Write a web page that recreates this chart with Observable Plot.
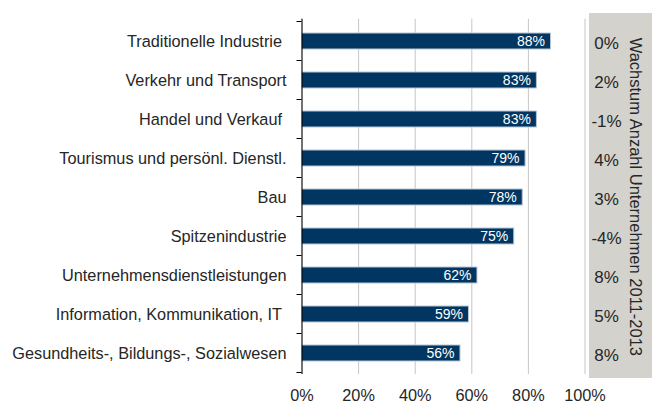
<!DOCTYPE html>
<html><head><meta charset="utf-8">
<script src="https://cdn.jsdelivr.net/npm/d3@7"></script>
<script src="https://cdn.jsdelivr.net/npm/@observablehq/plot@0.6"></script>
<style>body{margin:0;background:#fff;} svg{display:block;}</style>
</head><body><div id="chart"></div>
<script>
const categories = [
  "Traditionelle Industrie\u00a0",
  "Verkehr und Transport",
  "Handel und Verkauf\u00a0",
  "Tourismus und persönl. Dienstl.",
  "Bau",
  "Spitzenindustrie",
  "Unternehmensdienstleistungen",
  "Information, Kommunikation, IT\u00a0",
  "Gesundheits-, Bildungs-, Sozialwesen"
];
const shares = [0.88, 0.83, 0.83, 0.79, 0.78, 0.75, 0.62, 0.59, 0.56];
const growth = [0.00, 0.02, -0.01, 0.04, 0.03, -0.04, 0.08, 0.05, 0.08];
const growthTitle = "Wachstum Anzahl Unternehmen 2011-2013";
const xTicks = [0, 0.2, 0.4, 0.6, 0.8, 1.0];
const growthColumnX = 1.076;

const pct = d => `${Math.round(d * 100)}%`;
const data = categories.map((c, i) => ({category: c, share: shares[i], growth: growth[i]}));

const W = 652, H = 403;
const M = {top: 18.7, right: 67.5, bottom: 29, left: 301.5};
const textColor = "#262626";

const chart = Plot.plot({
  width: W, height: H,
  marginLeft: M.left, marginRight: M.right, marginTop: M.top, marginBottom: M.bottom,
  style: {fontFamily: "'Liberation Sans', Arial, sans-serif", fontSize: "16px", color: textColor, background: "transparent"},
  x: {domain: [0, 1], label: null},
  y: {domain: categories, paddingInner: 0.6, paddingOuter: 0.3, label: null},
  marks: [
    Plot.gridX(xTicks, {stroke: "#c6c6c6", strokeOpacity: 1}),
    Plot.axisX(xTicks, {tickSize: 0, tickPadding: 15, tickFormat: pct, fontSize: 16.3, fill: textColor, label: null}),
    Plot.axisY({tickSize: 0, tickPadding: 15.5, fontSize: 16.3, fill: textColor, label: null}),
    Plot.barX(data, {x: "share", y: "category", fill: "#003661", stroke: "#b7c6d4", strokeWidth: 1}),
    Plot.text(data, {x: "share", y: "category", text: d => pct(d.share), textAnchor: "end", dx: -6, fill: "white", fontSize: 14}),
    Plot.text(data, {x: () => growthColumnX, y: "category", text: d => pct(d.growth), fontSize: 17, dy: 2, fill: textColor}),
    Plot.text([growthTitle], {frameAnchor: "right", textAnchor: "middle", rotate: 90, dx: 50.5, fontSize: 16.5, fill: textColor}),
    Plot.ruleX([0], {stroke: "#000"})
  ]
});

document.getElementById("chart").appendChild(chart);

// Decorations derived from the chart's scales
const xs = chart.scale("x");
const ys = chart.scale("y");
const svg = d3.select(chart);
const step = ys.apply(categories[1]) - ys.apply(categories[0]);
const half = (step - ys.bandwidth) / 2;
const bounds = categories.map(c => ys.apply(c) - half)
  .concat([ys.apply(categories[categories.length - 1]) + ys.bandwidth + half]);
const x0 = xs.apply(0);

svg.insert("rect", ":first-child")
  .attr("x", xs.apply(1) + 4.5)
  .attr("y", M.top - 5.7)
  .attr("width", W - (xs.apply(1) + 4.5))
  .attr("height", (H - M.bottom + 4) - (M.top - 5.7))
  .attr("fill", "#d3d2cd");

svg.append("g").selectAll("line").data(bounds).join("line")
  .attr("x1", x0 - 5).attr("x2", x0)
  .attr("y1", d => d).attr("y2", d => d)
  .attr("stroke", "#000").attr("stroke-width", 1);
</script>
</body></html>
